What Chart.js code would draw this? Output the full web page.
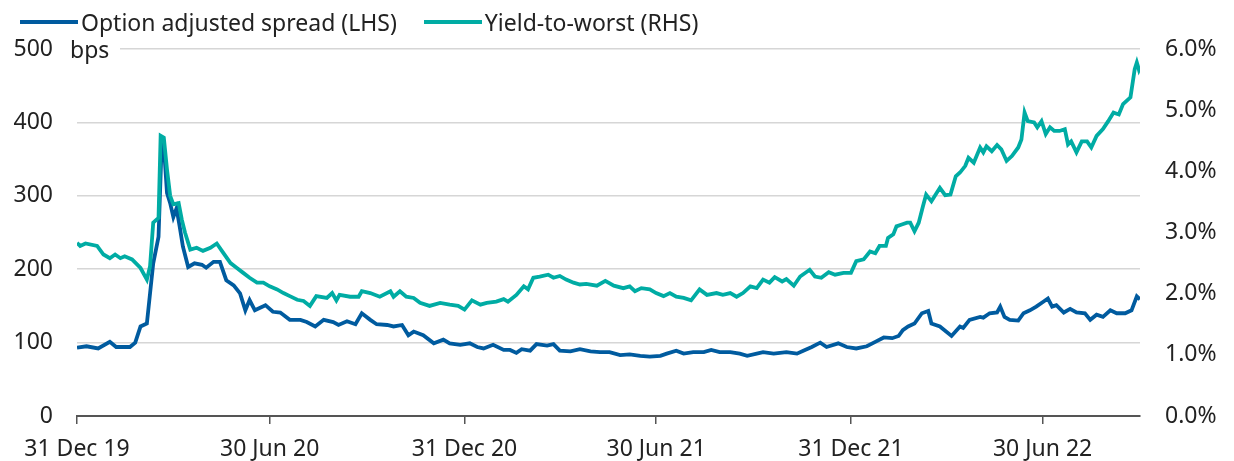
<!DOCTYPE html>
<html>
<head>
<meta charset="utf-8">
<script src="https://cdn.jsdelivr.net/npm/chart.js@4.4.0/dist/chart.umd.min.js"></script>
<style>
  html, body { margin: 0; padding: 0; background: #fff; }
  #wrap { position: relative; width: 1234px; height: 461px; }
  #legend {
    position: absolute;
    left: 20px;
    top: 8px;
    display: flex;
    gap: 27px;
    font: 23px "Noto Sans", sans-serif;
    line-height: 28px;
    color: #222;
    white-space: nowrap;
  }
  #legend .item { display: flex; align-items: center; gap: 3px; }
  #legend .swatch { display: inline-block; width: 58px; height: 4px; }
</style>
</head>
<body>
<div id="wrap">
  <canvas id="spreadChart" width="1234" height="461"></canvas>
  <div id="legend"></div>
</div>
<script>
// x values are days counted from 31 Dec 2019
const tickDays = [0, 182, 366, 547, 731, 912];
const tickLabels = ["31 Dec 19", "30 Jun 20", "31 Dec 20", "30 Jun 21", "31 Dec 21", "30 Jun 22"];
const lastDay = 1004; // 30 Sep 22

// Option adjusted spread, bps (LHS)
const oasDays = [0, 9, 20, 31, 37, 50, 55, 60, 66, 69, 72, 77, 80, 82, 85, 88, 91, 94, 97, 100,
  105, 111, 118, 122, 129, 135, 141, 148, 154, 159, 163, 168, 178, 185, 192, 201, 211, 217, 225, 233,
  242, 247, 255, 263, 269, 277, 283, 293, 299, 307, 313, 318, 327, 337, 346, 352, 362, 371, 378, 384,
  393, 403, 409, 415, 420, 428, 434, 444, 450, 456, 466, 475, 485, 494, 503, 513, 522, 532, 541, 551,
  557, 566, 573, 582, 592, 599, 607, 617, 626, 633, 642, 648, 658, 670, 680, 686, 694, 702, 708, 719,
  727, 736, 746, 754, 762, 770, 776, 780, 785, 791, 798, 804, 807, 815, 826, 834, 837, 843, 853, 856,
  862, 869, 872, 876, 881, 889, 894, 900, 906, 913, 917, 921, 925, 932, 938, 944, 952, 957, 963, 969,
  976, 982, 990, 996, 1001, 1004];
const oasValues = [93, 95, 92, 101, 94, 94, 100, 122, 126, 167, 208, 244, 372, 369, 304, 290, 271, 283, 258, 231,
  203, 208, 206, 202, 210, 210, 185, 178, 167, 144, 158, 144, 151, 142, 141, 131, 131, 128, 122, 131,
  128, 124, 129, 125, 140, 131, 125, 124, 122, 124, 110, 115, 110, 99, 104, 99, 97, 99, 94, 92,
  97, 90, 90, 86, 91, 89, 98, 96, 98, 89, 88, 91, 88, 87, 87, 83, 84, 82, 81, 82,
  85, 89, 85, 87, 87, 90, 87, 87, 85, 82, 85, 87, 85, 87, 85, 89, 94, 100, 94, 99,
  94, 92, 95, 101, 107, 106, 109, 117, 122, 126, 140, 143, 126, 122, 109, 122, 120, 131, 135, 134,
  140, 141, 149, 135, 131, 130, 140, 144, 149, 156, 160, 149, 151, 141, 146, 141, 140, 131, 138, 135,
  144, 140, 140, 144, 163, 159];

// Yield-to-worst, % (RHS)
const ytwDays = [0, 3, 8, 19, 25, 31, 36, 41, 45, 52, 60, 66, 69, 72, 77, 79, 82, 85, 88, 91,
  96, 99, 102, 107, 113, 119, 126, 132, 138, 145, 151, 157, 163, 170, 176, 182, 189, 195, 201, 208,
  214, 220, 226, 236, 241, 245, 248, 258, 266, 269, 277, 286, 296, 299, 305, 311, 318, 324, 333, 343,
  352, 360, 366, 373, 381, 387, 396, 403, 407, 415, 422, 426, 431, 437, 445, 450, 456, 462, 469, 475,
  481, 491, 499, 507, 516, 522, 527, 533, 541, 547, 554, 560, 566, 573, 580, 588, 595, 604, 610, 617,
  623, 629, 636, 642, 648, 654, 659, 666, 670, 677, 683, 692, 697, 703, 710, 716, 724, 731, 736, 743,
  749, 754, 758, 764, 766, 771, 774, 779, 784, 787, 791, 795, 799, 802, 807, 815, 820, 825, 830, 834,
  839, 842, 847, 853, 856, 859, 864, 869, 873, 878, 883, 889, 892, 895, 898, 904, 907, 911, 915, 919,
  923, 928, 933, 936, 939, 944, 949, 954, 958, 963, 969, 974, 979, 984, 988, 995, 999, 1001, 1003, 1004];
const ytwValues = [2.83, 2.78, 2.82, 2.78, 2.64, 2.58, 2.64, 2.58, 2.61, 2.56, 2.42, 2.23, 2.45, 3.16, 3.24, 4.58, 4.55, 4.03, 3.60, 3.46,
  3.48, 3.21, 3.00, 2.72, 2.75, 2.70, 2.75, 2.82, 2.67, 2.50, 2.42, 2.34, 2.26, 2.18, 2.18, 2.12, 2.07, 2.01, 1.96, 1.90,
  1.88, 1.80, 1.96, 1.93, 2.01, 1.89, 1.98, 1.95, 1.95, 2.04, 2.01, 1.95, 2.04, 1.95, 2.04, 1.95, 1.93, 1.85, 1.80, 1.85,
  1.82, 1.80, 1.74, 1.89, 1.82, 1.85, 1.87, 1.91, 1.87, 1.98, 2.12, 2.07, 2.26, 2.28, 2.31, 2.26, 2.29, 2.23, 2.18, 2.15,
  2.16, 2.13, 2.21, 2.13, 2.09, 2.12, 2.04, 2.09, 2.07, 2.01, 1.96, 2.01, 1.95, 1.93, 1.89, 2.07, 1.98, 2.01, 1.98, 2.01,
  1.95, 2.01, 2.12, 2.09, 2.23, 2.18, 2.27, 2.20, 2.24, 2.13, 2.28, 2.39, 2.28, 2.26, 2.35, 2.31, 2.34, 2.34, 2.53, 2.56,
  2.69, 2.66, 2.78, 2.78, 2.91, 2.97, 3.10, 3.13, 3.16, 3.16, 3.02, 3.16, 3.43, 3.62, 3.51, 3.73, 3.61, 3.62, 3.92, 3.98,
  4.09, 4.22, 4.14, 4.39, 4.31, 4.41, 4.33, 4.43, 4.36, 4.17, 4.25, 4.39, 4.52, 4.96, 4.82, 4.80, 4.72, 4.82, 4.61, 4.72,
  4.66, 4.66, 4.69, 4.44, 4.49, 4.31, 4.49, 4.49, 4.39, 4.58, 4.69, 4.82, 4.96, 4.93, 5.10, 5.21, 5.67, 5.78, 5.66, 5.70];

const FONT = '"Noto Sans", sans-serif';
const TEXT_COLOR = "#222";

// "bps" unit label next to the top left tick
const bpsLabel = {
  id: "bpsLabel",
  beforeDatasetsDraw(chart) {
    const { ctx, chartArea } = chart;
    const y = chart.scales.y.getPixelForValue(500);
    ctx.save();
    ctx.fillStyle = "#fff";
    ctx.fillRect(chartArea.left - 2, y - 3, 122 - chartArea.left, 6);
    ctx.font = "23px " + FONT;
    ctx.fillStyle = TEXT_COLOR;
    ctx.textBaseline = "alphabetic";
    ctx.fillText("bps", 70, y + 9);
    ctx.restore();
  },
};

function buildLegend(chart) {
  const box = document.getElementById("legend");
  box.innerHTML = "";
  chart.data.datasets.forEach((ds) => {
    const item = document.createElement("div");
    item.className = "item";
    item.innerHTML = `<span class="swatch" style="background:${ds.borderColor}"></span><span>${ds.label}</span>`;
    box.appendChild(item);
  });
}

const ctx = document.getElementById("spreadChart").getContext("2d");
const chart = new Chart(ctx, {
  type: "line",
  data: {
    datasets: [
      {
        label: "Option adjusted spread (LHS)",
        data: oasDays.map((d, i) => ({ x: d, y: oasValues[i] })),
        borderColor: "#005b9f",
        backgroundColor: "#005b9f",
        borderWidth: 3.8,
        pointRadius: 0,
        tension: 0,
        yAxisID: "y",
        order: 1,
      },
      {
        label: "Yield-to-worst (RHS)",
        data: ytwDays.map((d, i) => ({ x: d, y: ytwValues[i] })),
        borderColor: "#00aca4",
        backgroundColor: "#00aca4",
        borderWidth: 3.8,
        pointRadius: 0,
        tension: 0,
        yAxisID: "y1",
        order: 0,
      },
    ],
  },
  options: {
    responsive: false,
    animation: false,
    layout: { padding: { left: 0, top: 49, right: 0, bottom: 0 } },
    plugins: {
      legend: { display: false },
      tooltip: { enabled: false },
    },
    scales: {
      x: {
        type: "linear",
        min: 0,
        max: lastDay,
        afterBuildTicks: (scale) => {
          scale.ticks = tickDays.map((v) => ({ value: v }));
        },
        afterFit: (scale) => {
          scale.height = 45;
        },
        ticks: {
          autoSkip: false,
          maxRotation: 0,
          padding: 12,
          color: TEXT_COLOR,
          font: { family: FONT, size: 23 },
          callback: (value) => tickLabels[tickDays.indexOf(value)],
        },
        grid: {
          drawOnChartArea: false,
          drawTicks: true,
          tickLength: 8,
          color: "#555",
          lineWidth: 1.5,
        },
        border: { display: true, color: "#555", width: 2 },
      },
      y: {
        position: "left",
        min: 0,
        max: 500,
        afterFit: (scale) => {
          scale.width = 77;
        },
        ticks: {
          stepSize: 100,
          padding: 24,
          color: TEXT_COLOR,
          font: { family: FONT, size: 23 },
        },
        grid: { color: "#d6d6d6", lineWidth: 1.5, drawTicks: false },
        border: { display: false },
      },
      y1: {
        position: "right",
        min: 0,
        max: 6,
        afterFit: (scale) => {
          scale.width = 94;
        },
        ticks: {
          stepSize: 1,
          padding: 25,
          color: TEXT_COLOR,
          font: { family: FONT, size: 23 },
          callback: (value) => value.toFixed(1) + "%",
        },
        grid: { display: false, drawTicks: false },
        border: { display: false },
      },
    },
  },
  plugins: [bpsLabel],
});

buildLegend(chart);
</script>
</body>
</html>
